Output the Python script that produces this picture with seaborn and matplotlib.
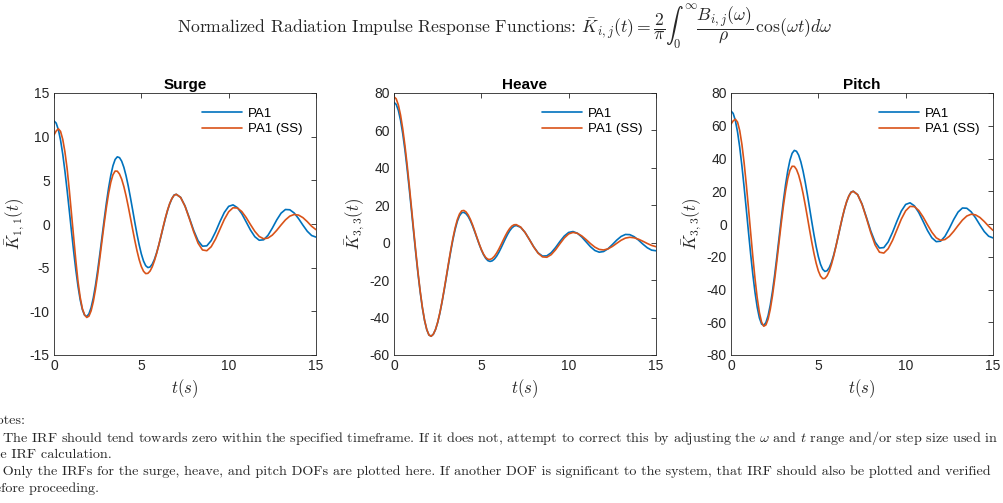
import numpy as np
import pandas as pd
import matplotlib
matplotlib.use("Agg")
import matplotlib.pyplot as plt
import seaborn as sns

# ---------------- data ----------------
# sample times: 0.125 s steps up to 7 s, 0.25 s steps afterwards
time_s = np.concatenate([np.arange(0, 7.001, 0.125), np.arange(7.25, 15.001, 0.25)])

surge_pa1 = [11.8, 11.55, 10.80, 9.60, 8.00, 6.06, 3.87, 1.55, -0.82, -3.13, -5.27, -7.14, -8.68, -9.80, -10.44,
             -10.59, -10.29, -9.57, -8.46, -7.02, -5.32, -3.43, -1.45, 0.53, 2.42, 4.12, 5.56, 6.67, 7.39, 7.69,
             7.60, 7.19, 6.49, 5.53, 4.36, 3.04, 1.64, 0.21, -1.15, -2.38, -3.43, -4.24, -4.77, -4.99, -4.92,
             -4.60, -4.05, -3.30, -2.41, -1.42, -0.39, 0.62, 1.54, 2.31, 2.90, 3.32, 3.40,
             3.05, 2.07, 0.69, -0.75, -1.92, -2.54, -2.50, -1.90, -0.90, 0.27, 1.32, 2.02, 2.19, 1.87, 1.18, 0.25,
             -0.70, -1.46, -1.86, -1.81, -1.30, -0.47, 0.46, 1.24, 1.66, 1.63, 1.26, 0.62, -0.13, -0.83, -1.32, -1.50]
surge_ss = [10.2, 10.65, 10.9, 10.60, 9.70, 8.26, 6.36, 3.9, 1.2, -1.5, -4.2, -6.6, -8.4, -9.7, -10.4,
            -10.7, -10.55, -9.94, -8.90, -7.49, -5.79, -3.89, -1.90, 0.07, 1.90, 3.49, 4.76, 5.64, 6.06, 6.05,
            5.72, 5.13, 4.28, 3.23, 2.02, 0.73, -0.59, -1.87, -3.05, -4.07, -4.87, -5.41, -5.68, -5.65, -5.39,
            -4.90, -4.21, -3.37, -2.40, -1.36, -0.31, 0.69, 1.59, 2.35, 2.92, 3.28, 3.40,
            3.04, 2.04, 0.61, -0.91, -2.20, -2.97, -3.06, -2.60, -1.72, -0.60, 0.52, 1.40, 1.86, 1.83, 1.43, 0.75,
            -0.07, -0.85, -1.43, -1.69, -1.61, -1.27, -0.73, -0.11, 0.47, 0.90, 1.09, 1.02, 0.73, 0.27, -0.26, -0.65]
heave_pa1 = [75.0, 73.91, 70.7, 65.44, 58.3, 49.63, 39.6, 28.69, 17.2, 5.5, -5.9, -16.69, -26.4, -34.88, -41.6,
             -46.44, -49.3, -49.97, -48.94, -46.45, -42.64, -37.67, -31.77, -25.20, -18.28, -11.25, -4.48, 1.71, 7.08, 11.39,
             14.38, 16.03, 16.23, 15.48, 13.95, 11.71, 8.94, 5.79, 2.49, -0.78, -3.81, -6.38, -8.34, -9.58, -10.0,
             -9.67, -8.71, -7.19, -5.2, -2.88, -0.4, 2.08, 4.4, 6.39, 7.91, 8.87, 9.2,
             8.23, 5.54, 1.76, -2.21, -5.43, -7.14, -7.01, -5.35, -2.58, 0.65, 3.57, 5.49, 5.97, 5.06, 3.06, 0.45,
             -2.16, -4.16, -5.07, -4.71, -3.24, -1.02, 1.37, 3.34, 4.41, 4.31, 3.21, 1.38, -0.76, -2.69, -3.97, -4.3]
heave_ss = [78.0, 76.89, 73.6, 68.21, 60.9, 52.02, 41.8, 30.58, 18.8, 6.83, -4.9, -15.89, -25.9, -34.51, -41.4,
            -46.35, -49.3, -49.97, -48.92, -46.40, -42.53, -37.48, -31.49, -24.83, -17.80, -10.66, -3.80, 2.49, 7.95, 12.32,
            15.35, 17.03, 17.23, 16.43, 14.79, 12.42, 9.50, 6.20, 2.77, -0.56, -3.58, -6.07, -7.87, -8.84, -8.95,
            -8.38, -7.21, -5.53, -3.46, -1.11, 1.33, 3.70, 5.85, 7.61, 8.90, 9.59, 9.66,
            8.38, 5.54, 1.71, -2.28, -5.60, -7.57, -7.77, -6.38, -3.77, -0.54, 2.53, 4.71, 5.5, 5.01, 3.63, 1.67,
            -0.49, -2.36, -3.58, -3.88, -3.29, -2.00, -0.33, 1.30, 2.47, 2.9, 2.63, 1.87, 0.78, -0.41, -1.45, -2.12]
pitch_pa1 = [69.0, 67.53, 63.17, 56.16, 46.80, 35.45, 22.63, 9.05, -4.82, -18.32, -30.82, -41.79, -50.80, -57.32, -61.08,
             -61.95, -60.18, -55.95, -49.48, -41.08, -31.13, -20.06, -8.5, 3.06, 14.13, 24.08, 32.48, 38.95, 43.18, 44.95,
             44.41, 42.02, 37.93, 32.35, 25.54, 17.84, 9.67, 1.38, -6.54, -13.76, -19.86, -24.60, -27.67, -28.96, -28.53,
             -26.65, -23.44, -19.08, -13.88, -8.10, -2.10, 3.76, 9.12, 13.65, 17.11, 19.53, 20.0,
             17.94, 12.23, 4.22, -4.20, -11.03, -14.67, -14.40, -10.90, -5.06, 1.73, 7.88, 11.94, 12.94, 11.09, 7.0, 1.58,
             -3.98, -8.43, -10.78, -10.49, -7.52, -2.68, 2.74, 7.30, 9.77, 9.62, 7.45, 3.77, -0.56, -4.62, -7.46, -8.5]
pitch_ss = [61.0, 63.0, 64.0, 62.23, 56.98, 48.57, 37.44, 24.28, 9.73, -5.26, -19.93, -33.41, -45.04, -54.02, -59.91,
            -62.44, -61.62, -58.09, -52.01, -43.78, -33.84, -22.76, -11.15, 0.32, 11.0, 20.26, 27.71, 32.81, 35.26, 35.19,
            33.29, 29.81, 24.84, 18.70, 11.66, 4.11, -3.62, -11.11, -17.98, -23.94, -28.64, -31.81, -33.36, -33.23, -31.68,
            -28.82, -24.75, -19.78, -14.08, -7.98, -1.83, 4.06, 9.38, 13.82, 17.19, 19.28, 20.0,
            17.89, 12.02, 3.70, -5.21, -12.76, -17.22, -17.75, -15.07, -9.97, -3.5, 2.97, 8.07, 10.75, 10.60, 8.26, 4.29,
            -0.47, -5.02, -8.44, -9.96, -9.49, -7.53, -4.47, -0.93, 2.40, 4.87, 5.97, 5.58, 3.99, 1.51, -1.37, -3.9]

series_names = ["PA1", "PA1 (SS)"]
panel_titles = ["Surge", "Heave", "Pitch"]
panel_ylabels = [r"$\bar{K}_{1,1}(t)$", r"$\bar{K}_{3,3}(t)$", r"$\bar{K}_{3,3}(t)$"]
panel_ylims = [(-15, 15), (-60, 80), (-80, 80)]
panel_yticks = [[-15, -10, -5, 0, 5, 10, 15],
                [-60, -40, -20, 0, 20, 40, 60, 80],
                [-80, -60, -40, -20, 0, 20, 40, 60, 80]]
xticks = [0, 5, 10, 15]
panel_data = [(surge_pa1, surge_ss), (heave_pa1, heave_ss), (pitch_pa1, pitch_ss)]

# ---------------- style ----------------
sns.set_theme(style="white")
plt.rcParams["font.family"] = ["Liberation Sans", "DejaVu Sans"]
plt.rcParams["mathtext.fontset"] = "cm"
plt.rcParams["axes.unicode_minus"] = False

matlab_colors = ["#0072BD", "#D95319"]
grey = "#262626"

fig = plt.figure(figsize=(10.04, 5.03), dpi=100)

lefts = [54 / 1004, 394 / 1004, 731 / 1004]
W = 262 / 1004
B = 1 - 355 / 503
H = 262 / 503

for k in range(3):
    ax = fig.add_axes([lefts[k], B, W, H])
    a, b = panel_data[k]
    df = pd.DataFrame({
        "t": np.concatenate([time_s, time_s]),
        "K": np.concatenate([a, b]),
        "series": [series_names[0]] * len(time_s) + [series_names[1]] * len(time_s),
    })
    sns.lineplot(data=df, x="t", y="K", hue="series", palette=matlab_colors,
                 linewidth=1.2, ax=ax, legend=True)
    ax.set_xlim(0, 15)
    ax.set_ylim(*panel_ylims[k])
    ax.set_xticks(xticks)
    ax.set_yticks(panel_yticks[k])
    ax.set_title(panel_titles[k], fontsize=11, fontweight="bold", pad=3, color="black")
    ax.set_xlabel(r"$t(s)$", fontsize=12, color=grey, labelpad=3)
    ax.set_ylabel(panel_ylabels[k], fontsize=12, color=grey, labelpad=2)
    ax.tick_params(direction="in", top=True, right=True, length=3.5, width=0.6,
                   labelsize=10, colors=grey, pad=3)
    for sp in ax.spines.values():
        sp.set_color(grey)
        sp.set_linewidth(0.6)
    leg = ax.legend(loc="upper right", frameon=False, fontsize=9.5, handlelength=3.0,
                    borderaxespad=0.4, labelspacing=0.25, handletextpad=0.5,
                    bbox_to_anchor=(0.99, 0.985))
    for txt in leg.get_texts():
        txt.set_color("black")

# ---------------- title ----------------
fig.text(0.503, 0.945,
         r"Normalized Radiation Impulse Response Functions: "
         r"$\bar{K}_{i,j}(t) = \dfrac{2}{\pi}\int_0^{\infty}\dfrac{B_{i,j}(\omega)}{\rho}\,\cos(\omega t)d\omega$",
         ha="center", va="center", fontsize=12.7, family="cmr10")

# ---------------- notes ----------------
notes = [
    "Notes:",
    r"1. The IRF should tend towards zero within the specified timeframe. If it does not, attempt to correct this by adjusting the $\omega$ and $t$ range and/or step size used in",
    "the IRF calculation.",
    "2. Only the IRFs for the surge, heave, and pitch DOFs are plotted here. If another DOF is significant to the system, that IRF should also be plotted and verified",
    "before proceeding.",
]
ys = [421, 438, 455, 472, 489]
for line, y in zip(notes, ys):
    fig.text(-13 / 1004, 1 - y / 503, line, ha="left", va="center", fontsize=10.2, family="cmr10")

fig.savefig("out.png", dpi=100)
